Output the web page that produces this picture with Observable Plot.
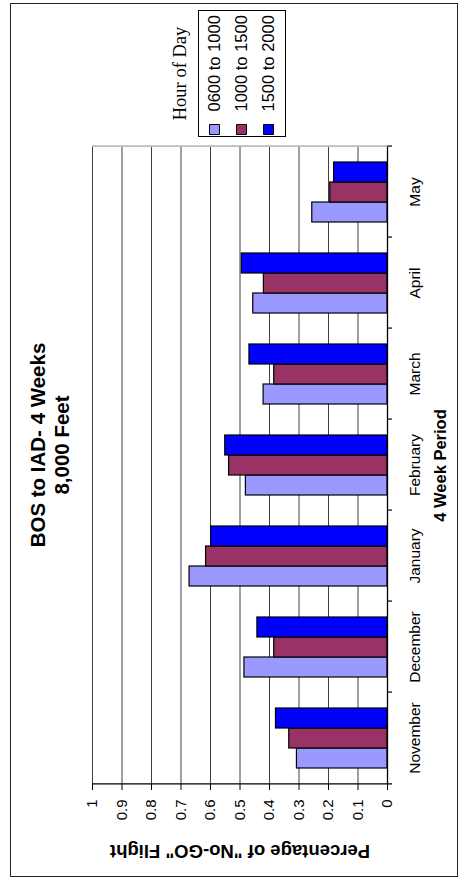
<!DOCTYPE html>
<html>
<head>
<meta charset="utf-8">
<script src="https://cdn.jsdelivr.net/npm/d3@7"></script>
<script src="https://cdn.jsdelivr.net/npm/@observablehq/plot@0.6"></script>
<style>
  html, body { margin: 0; padding: 0; background: #fff; }
  body { width: 468px; height: 882px; overflow: hidden; position: relative; }
  /* The sheet is laid out landscape, then turned a quarter turn counter-clockwise */
  #sheet {
    position: absolute; left: 0; top: 0; width: 882px; height: 468px;
    transform-origin: 0 0; transform: translate(0px, 882px) rotate(-90deg);
    font-family: "Liberation Sans", Arial, sans-serif; color: #000;
  }
  #border {
    position: absolute; left: 5px; top: 10px; width: 874px; height: 448px;
    box-sizing: border-box; border: 1.5px solid #222;
  }
  #chart { position: absolute; left: 0; top: 0; }
  #title {
    position: absolute; left: 0; top: 26px; width: 874px; text-align: center;
    font-weight: bold; font-size: 20.5px; line-height: 23.5px;
  }
  #xtitle {
    position: absolute; left: 95px; top: 432px; width: 643px; text-align: center;
    font-weight: bold; font-size: 16.5px; line-height: 16px;
  }
  #ytitle {
    position: absolute; left: -119px; top: 230px; width: 300px; height: 20px;
    text-align: center; font-weight: bold; font-size: 18.5px; line-height: 20px;
    transform: rotate(-90deg); white-space: nowrap;
  }
  #legendTitle {
    position: absolute; left: 745px; top: 171px; width: 127px; text-align: center;
    font-family: "Liberation Serif", "Times New Roman", serif; font-size: 18.5px; line-height: 18.5px;
    white-space: nowrap;
  }
  #legendBox {
    position: absolute; left: 745px; top: 198px; width: 127px; height: 88px;
    box-sizing: border-box; border: 1px solid #000;
  }
  #legend { position: absolute; left: 745px; top: 198px; }
</style>
</head>
<body>
<div id="sheet">
  <div id="border"></div>
  <div id="chart"></div>
  <div id="title">BOS to IAD- 4 Weeks<br>8,000 Feet</div>
  <div id="xtitle">4 Week Period</div>
  <div id="ytitle">Percentage of "No-GO" Flight</div>
  <div id="legendTitle">Hour of Day</div>
  <div id="legendBox"></div>
  <div id="legend"></div>
</div>
<script>
// Four-week periods and hour-of-day bands
const months = ["November", "December", "January", "February", "March", "April", "May"];
const series = ["0600 to 1000", "1000 to 1500", "1500 to 2000"];
const colors = ["#9999FF", "#993366", "#0000FF"];

// Share of "No-GO" flights per period, one array per hour band
const v0600 = [0.307, 0.485, 0.671, 0.480, 0.420, 0.455, 0.255];
const v1000 = [0.333, 0.384, 0.615, 0.537, 0.384, 0.419, 0.194];
const v1500 = [0.378, 0.441, 0.598, 0.550, 0.468, 0.494, 0.181];

const yTicks = [0, 0.1, 0.2, 0.3, 0.4, 0.5, 0.6, 0.7, 0.8, 0.9, 1];

const rows = months.flatMap((m, i) =>
  [v0600, v1000, v1500].map((vals, j) => ({month: m, series: series[j], value: vals[i]}))
);

const W = 882, H = 468;
const mL = 95, mR = 144, mT = 92, mB = 81;
const halfStep = (W - mL - mR) / months.length / 2;
const font = "'Liberation Sans', Arial, sans-serif";

const chart = Plot.plot({
  width: W,
  height: H,
  marginLeft: mL,
  marginRight: mR,
  marginTop: mT,
  marginBottom: mB,
  style: {background: "transparent", fontFamily: font, fontSize: "15px", color: "#000"},
  fx: {domain: months, padding: 0, label: null},
  x: {domain: series, paddingInner: 0, paddingOuter: 0.707, axis: null},
  y: {domain: [0, 1], label: null},
  color: {domain: series, range: colors},
  marks: [
    Plot.gridY(yTicks.slice(1), {stroke: "#404040", strokeOpacity: 1, strokeWidth: 1}),
    Plot.barY(rows, {fx: "month", x: "series", y: "value", fill: "series", stroke: "#000", strokeWidth: 1.2}),
    // category axis line and the tick marks between periods
    Plot.ruleY([0], {stroke: "#000", strokeWidth: 1.3}),
    Plot.ruleX(months, {fx: d => d, x: null, y1: 0, y2: 0, dx: halfStep, insetBottom: -5, stroke: "#000", strokeWidth: 1.2}),
    // value axis line on the first period, plot edge on the last
    Plot.ruleX([months[0]], {fx: d => d, x: null, y1: 1, y2: 0, dx: -halfStep, insetBottom: -5, stroke: "#000", strokeWidth: 1.3}),
    Plot.ruleX([months[months.length - 1]], {fx: d => d, x: null, y1: 1, y2: 0, dx: halfStep, stroke: "#888"}),
    Plot.axisY(yTicks, {tickSize: 6, tickPadding: 10, tickFormat: d => String(d), label: null, fontSize: 15}),
    Plot.axisFx({anchor: "bottom", tickSize: 0, tickPadding: 21, label: null, fontSize: 15.5})
  ]
});
document.getElementById("chart").append(chart);

// Legend: swatches and labels from the same colour scale
const legend = Plot.plot({
  width: 127,
  height: 88,
  margin: 0,
  style: {background: "transparent", fontFamily: font, fontSize: "16.5px", color: "#000"},
  x: {axis: null},
  y: {type: "point", padding: 0, domain: series, range: [15, 70], axis: null},
  color: {domain: series, range: colors},
  marks: [
    Plot.dot(series, {y: d => d, frameAnchor: "left", dx: 7, symbol: "square", r: 5.64, fill: d => d, stroke: "#000", strokeWidth: 1}),
    Plot.text(series, {y: d => d, text: d => d, frameAnchor: "left", textAnchor: "start", dx: 25, fontSize: 16.5, fontFamily: font, fill: "#000"})
  ]
});
document.getElementById("legend").append(legend);
</script>
</body>
</html>
